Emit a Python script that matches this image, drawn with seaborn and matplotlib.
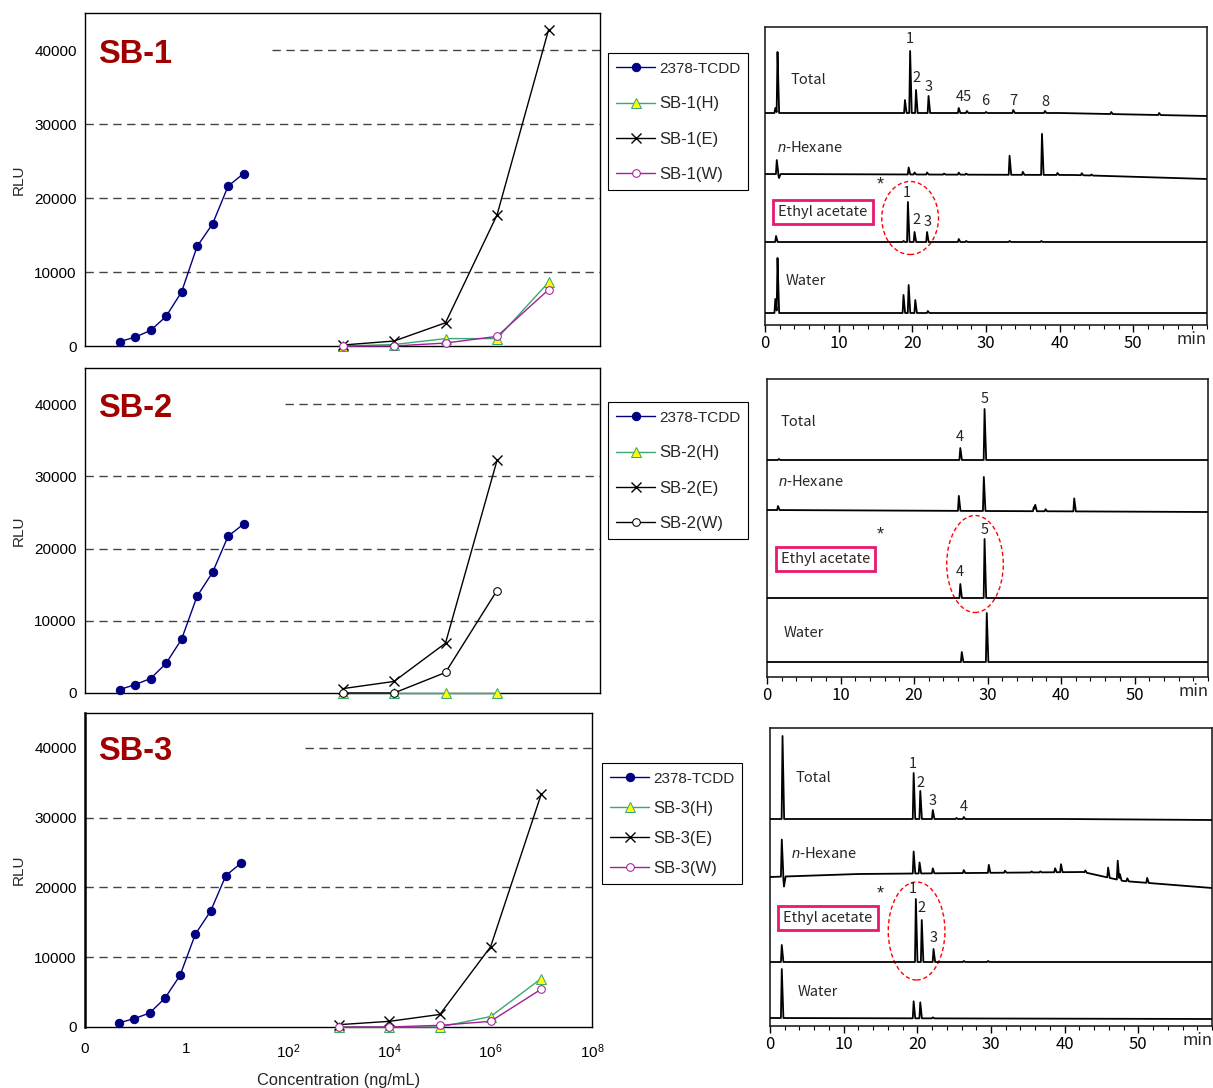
import numpy as np
import pandas as pd
import matplotlib
matplotlib.use("Agg")
import matplotlib.pyplot as plt
import seaborn as sns
from matplotlib.patches import Ellipse

# --------------------------
# Dose-response data (RLU vs concentration, ng/mL)
# --------------------------
tcdd_conc = [0.046875, 0.09375, 0.1875, 0.375, 0.75, 1.5, 3, 6, 12]
tcdd_rlu_1 = [580, 1200, 2100, 4000, 7300, 13450, 16500, 21600, 23300]
tcdd_rlu_2 = [470, 1160, 2000, 4100, 7440, 13400, 16700, 21700, 23400]
tcdd_rlu_3 = [600, 1200, 2000, 4100, 7400, 13300, 16600, 21700, 23500]

sample_conc = [1e3, 1e4, 1e5, 1e6, 1e7]
sb1_h = [0, 200, 1000, 1000, 8600]
sb1_e = [130, 670, 3140, 17700, 42700]
sb1_w = [0, 0, 400, 1300, 7600]

sb2_conc = [1e3, 1e4, 1e5, 1e6]
sb2_h = [0, 0, 0, 0]
sb2_e = [600, 1600, 6900, 32200]
sb2_w = [0, 0, 2840, 14190]

sb3_h = [0, 0, 0, 1500, 6950]
sb3_e = [330, 810, 1800, 11500, 33400]
sb3_w = [0, 0, 240, 810, 5430]

# --------------------------
# Chromatograms: baseline knots (min, level) and peaks (min, height)
# --------------------------
# SB-1
c1_tot_bt, c1_tot_by = [0, 40, 60], [212, 212, 209]
c1_tot_rt = [1.4, 1.7, 19.0, 19.7, 20.5, 22.2, 26.3, 27.4, 30.0, 33.7, 38.0, 47.0, 53.5]
c1_tot_h = [5, 61, 13, 62, 23, 17, 5, 2, 1, 3, 2, 2, 2]
c1_hex_bt, c1_hex_by = [0, 42, 60], [151, 150, 146]
c1_hex_rt = [1.6, 1.9, 19.5, 20.3, 22.0, 24.3, 26.3, 27.3, 33.2, 35.0, 37.6, 39.7, 43.0, 44.3]
c1_hex_h = [14, -4, 7, 2, 2, 1, 2, 1, 19, 3, 41, 2, 2, 1]
c1_ea_bt, c1_ea_by = [0, 60], [83, 83]
c1_ea_rt = [1.5, 18.8, 19.4, 20.3, 22.0, 26.3, 27.3, 33.2, 37.5]
c1_ea_h = [6, 1, 40, 10, 10, 3, 1, 1, 1]
c1_wat_bt, c1_wat_by = [0, 60], [12, 12]
c1_wat_rt = [1.4, 1.7, 18.8, 19.5, 20.4, 22.1]
c1_wat_h = [14, 55, 18, 28, 13, 2]

# SB-2
c2_tot_bt, c2_tot_by = [0, 60], [217, 217]
c2_tot_rt = [1.6, 26.3, 29.6]
c2_tot_h = [1, 12, 51]
c2_hex_bt, c2_hex_by = [0, 60], [167, 165]
c2_hex_rt = [1.5, 26.1, 29.5, 36.3, 36.5, 37.9, 41.8]
c2_hex_h = [4, 15, 34, 4, 6, 2, 13]
c2_ea_bt, c2_ea_by = [0, 60], [79, 79]
c2_ea_rt = [26.3, 29.6]
c2_ea_h = [14, 59]
c2_wat_bt, c2_wat_by = [0, 60], [15, 15]
c2_wat_rt = [26.5, 29.9]
c2_wat_h = [10, 49]

# SB-3
c3_tot_bt, c3_tot_by = [0, 40, 60], [207, 207, 206]
c3_tot_rt = [1.7, 19.5, 20.4, 22.1, 25.3, 26.3]
c3_tot_h = [83, 46, 28, 9, 1, 2]
c3_hex_bt, c3_hex_by = [0, 12, 42.5, 48, 60], [149, 152, 154, 145, 138]
c3_hex_rt = [1.6, 1.9, 19.5, 20.3, 22.1, 26.3, 29.7, 31.9, 35.5, 36.7, 38.7,
             39.5, 42.8, 45.9, 47.2, 47.5, 48.5, 51.2]
c3_hex_h = [37, -10, 22, 11, 5, 3, 8, 2, 1, 1, 4, 8, 2, 10, 19, 6, 3, 5]
c3_ea_bt, c3_ea_by = [0, 60], [64, 64]
c3_ea_rt = [1.6, 19.8, 20.6, 22.2, 26.3, 29.6]
c3_ea_h = [17, 63, 42, 13, 1, 1]
c3_wat_bt, c3_wat_by = [0, 60], [8, 7]
c3_wat_rt = [1.6, 19.5, 20.4, 22.1]
c3_wat_h = [49, 17, 16, 1]

# --------------------------
# Style
# --------------------------
sns.set_theme(style="white")
plt.rcParams["font.family"] = ["Liberation Sans", "DejaVu Sans"]
plt.rcParams["mathtext.fontset"] = "custom"
plt.rcParams["mathtext.rm"] = "Liberation Sans"
plt.rcParams["mathtext.it"] = "Liberation Sans:italic"

NAVY = "#000080"
GREEN = "#3aa870"
PURPLE = "#a0209a"
DARKRED = "#a00000"
PINK = "#e8176f"
CHROM_FONT = ["Noto Sans CJK JP", "DejaVu Sans"]

fig = plt.figure(figsize=(12.13, 10.88), dpi=100)
W, H = 1213, 1088


def rect_px(left, top, right, bottom):
    return [left / W, 1 - bottom / H, (right - left) / W, (bottom - top) / H]


# --------------------------
# Dose-response panels
# --------------------------
def dose_panel(rect, name, tcdd, conc, h, e, w, w_color, grid_start, legend_at,
               spacing, show_x):
    ax = fig.add_axes(rect)
    ax.set_xscale("log")
    sns.lineplot(x=tcdd_conc, y=tcdd, ax=ax, color=NAVY, lw=1, marker="o",
                 markersize=6, markeredgecolor=NAVY, label="2378-TCDD",
                 estimator=None, sort=False, clip_on=False, zorder=4)
    sns.lineplot(x=conc, y=h, ax=ax, color=GREEN, lw=1, marker="^",
                 markersize=6.5, markerfacecolor="#ffff00", markeredgecolor=GREEN,
                 label=f"{name}(H)", estimator=None, sort=False, clip_on=False,
                 zorder=4)
    sns.lineplot(x=conc, y=e, ax=ax, color="black", lw=1, marker="x",
                 markersize=6.5, markeredgecolor="black", markeredgewidth=1,
                 label=f"{name}(E)", estimator=None, sort=False, clip_on=False,
                 zorder=4)
    sns.lineplot(x=conc, y=w, ax=ax, color=w_color, lw=1, marker="o",
                 markersize=5.5, markerfacecolor="white", markeredgecolor=w_color,
                 label=f"{name}(W)", estimator=None, sort=False, clip_on=False,
                 zorder=5)
    ax.set_xlim(1e-2, 1e8)
    ax.set_ylim(0, 45000)
    for yv in [10000, 20000, 30000]:
        ax.axhline(yv, color="#444444", lw=1, ls=(0, (6, 4)), zorder=1)
    ax.axhline(40000, xmin=grid_start, color="#444444", lw=1, ls=(0, (6, 4)),
               zorder=1)
    ax.set_yticks([0, 10000, 20000, 30000, 40000])
    ax.set_yticklabels(["0", "10000", "20000", "30000", "40000"])
    ax.set_xticks([1e-2, 1, 1e2, 1e4, 1e6, 1e8])
    ax.xaxis.set_minor_locator(matplotlib.ticker.NullLocator())
    if show_x:
        ax.set_xticklabels(["0", "1", "$10^2$", "$10^4$", "$10^6$", "$10^8$"])
        ax.set_xlabel("Concentration (ng/mL)", fontsize=11.8, labelpad=9)
    else:
        ax.set_xticklabels([])
    ax.tick_params(axis="both", direction="inout", length=8, width=1,
                   colors="black", labelsize=11, pad=3)
    ax.tick_params(axis="x", pad=7)
    ax.tick_params(axis="y", pad=2)
    for s in ax.spines.values():
        s.set_color("black")
        s.set_linewidth(1)
    ax.set_ylabel("RLU", fontsize=11, labelpad=6)
    ax.text(0.025, 0.876, name, transform=ax.transAxes, color=DARKRED,
            fontsize=23.5, fontweight="bold", va="center", ha="left")
    leg = ax.legend(loc="upper left", bbox_to_anchor=legend_at,
                    bbox_transform=fig.transFigure, frameon=True, fancybox=False,
                    edgecolor="black", framealpha=1, borderpad=0.5,
                    labelspacing=spacing, handlelength=2.3, handletextpad=0.25,
                    borderaxespad=0, fontsize=12)
    leg.get_frame().set_linewidth(0.8)
    leg.get_texts()[0].set_fontsize(11)
    return ax


dose_panel(rect_px(85, 13, 600, 346), "SB-1", tcdd_rlu_1, sample_conc,
           sb1_h, sb1_e, sb1_w, PURPLE, 0.363, (608 / W, 1 - 53 / H), 1.22, False)
dose_panel(rect_px(85, 368, 600, 693), "SB-2", tcdd_rlu_2, sb2_conc,
           sb2_h, sb2_e, sb2_w, "black", 0.388, (608 / W, 1 - 402 / H), 1.22, False)
ax3 = dose_panel(rect_px(85, 713, 592, 1027), "SB-3", tcdd_rlu_3, sample_conc,
                 sb3_h, sb3_e, sb3_w, PURPLE, 0.434, (602 / W, 1 - 763 / H),
                 0.9, True)
ax3.spines["left"].set_linewidth(1.8)


# --------------------------
# Chromatogram panels
# --------------------------
def trace(bt, by, rt, h):
    rt = np.asarray(rt, float)
    pts = np.concatenate([bt, rt - 0.12, rt, rt + 0.22])
    t = np.unique(np.clip(pts, 0, 60))
    y = np.interp(t, bt, by)
    for r, hh in zip(rt, h):
        left = np.clip((t - (r - 0.12)) / 0.12, 0, 1)
        right = np.clip(((r + 0.22) - t) / 0.22, 0, 1)
        y = y + hh * np.minimum(left, right)
    return pd.DataFrame({"t": t, "y": y})


def chrom_panel(rect, traces, name_pos, peak_labels, star, ellipse):
    ax = fig.add_axes(rect)
    for bt, by, rt, h in traces:
        df = trace(bt, by, rt, h)
        sns.lineplot(data=df, x="t", y="y", ax=ax, color="black", lw=1.3,
                     estimator=None, sort=False, zorder=3)
    ax.set_xlim(0, 60)
    ax.set_ylim(0, 298)
    ax.set_xlabel("")
    ax.set_ylabel("")
    ax.set_yticks([])
    ax.set_xticks([0, 10, 20, 30, 40, 50])
    ax.set_xticklabels(["0", "10", "20", "30", "40", "50"], family=CHROM_FONT)
    ax.set_xticks(np.arange(0, 61, 2), minor=True)
    ax.tick_params(axis="x", which="major", direction="out", length=5,
                   width=1, colors="black", labelsize=12, pad=2, bottom=True)
    ax.tick_params(axis="x", which="minor", direction="out", length=3,
                   width=0.8, colors="black", bottom=True)
    for s in ax.spines.values():
        s.set_color("#222222")
        s.set_linewidth(1.2)
    ax.text(1.0, -0.02, "min", transform=ax.transAxes, ha="right", va="top",
            fontsize=12, family=CHROM_FONT)
    (tx, ty), (hx, hy), (ex, ey), (wx, wy) = name_pos
    ax.text(tx, ty, "Total", fontsize=10.5, family=CHROM_FONT, va="center")
    ax.text(hx, hy, "$\\mathit{n}$-Hexane", fontsize=10.5, family=CHROM_FONT,
            va="center")
    ax.text(ex, ey, "Ethyl acetate", fontsize=10.5, family=CHROM_FONT,
            va="center", zorder=5,
            bbox=dict(boxstyle="square,pad=0.35", fc="white", ec=PINK, lw=2))
    ax.text(wx, wy, "Water", fontsize=10.5, family=CHROM_FONT, va="center")
    for lab, lx, ly in peak_labels:
        ax.text(lx, ly, lab, fontsize=10.5, family=CHROM_FONT, ha="center",
                va="center")
    ax.text(star[0], star[1], "*", fontsize=13, ha="center", va="center")
    ex0, ey0, ew, eh = ellipse
    ax.add_patch(Ellipse((ex0, ey0), ew, eh, fill=False, ec="red", lw=1,
                         ls=(0, (3, 2)), zorder=2))
    return ax


chrom_panel(rect_px(765, 27, 1207, 325),
            [(c1_tot_bt, c1_tot_by, c1_tot_rt, c1_tot_h),
             (c1_hex_bt, c1_hex_by, c1_hex_rt, c1_hex_h),
             (c1_ea_bt, c1_ea_by, c1_ea_rt, c1_ea_h),
             (c1_wat_bt, c1_wat_by, c1_wat_rt, c1_wat_h)],
            [(3.4, 245), (1.6, 178), (1.8, 113), (2.8, 44)],
            [("1", 19.7, 286), ("2", 20.6, 247), ("3", 22.2, 238),
             ("45", 27.0, 228), ("6", 29.9, 224), ("7", 33.7, 224),
             ("8", 38.0, 223), ("1", 19.3, 132), ("2", 20.5, 105),
             ("3", 22.1, 103)],
            (15.6, 140), (19.7, 107, 7.7, 73))

chrom_panel(rect_px(767, 379, 1208, 677),
            [(c2_tot_bt, c2_tot_by, c2_tot_rt, c2_tot_h),
             (c2_hex_bt, c2_hex_by, c2_hex_rt, c2_hex_h),
             (c2_ea_bt, c2_ea_by, c2_ea_rt, c2_ea_h),
             (c2_wat_bt, c2_wat_by, c2_wat_rt, c2_wat_h)],
            [(1.8, 255), (1.5, 195), (1.9, 118), (2.3, 44)],
            [("4", 26.2, 240), ("5", 29.6, 278), ("4", 26.2, 105),
             ("5", 29.6, 147)],
            (15.4, 142), (28.3, 113, 7.7, 97))

chrom_panel(rect_px(770, 728, 1212, 1026),
            [(c3_tot_bt, c3_tot_by, c3_tot_rt, c3_tot_h),
             (c3_hex_bt, c3_hex_by, c3_hex_rt, c3_hex_h),
             (c3_ea_bt, c3_ea_by, c3_ea_rt, c3_ea_h),
             (c3_wat_bt, c3_wat_by, c3_wat_rt, c3_wat_h)],
            [(3.5, 248), (2.9, 173), (1.8, 108), (3.8, 34)],
            [("1", 19.4, 262), ("2", 20.4, 243), ("3", 22.1, 225),
             ("4", 26.3, 219), ("1", 19.4, 137), ("2", 20.6, 118),
             ("3", 22.2, 88)],
            (15.0, 132), (19.9, 95, 7.7, 98))

fig.savefig("out.png", dpi=100)
